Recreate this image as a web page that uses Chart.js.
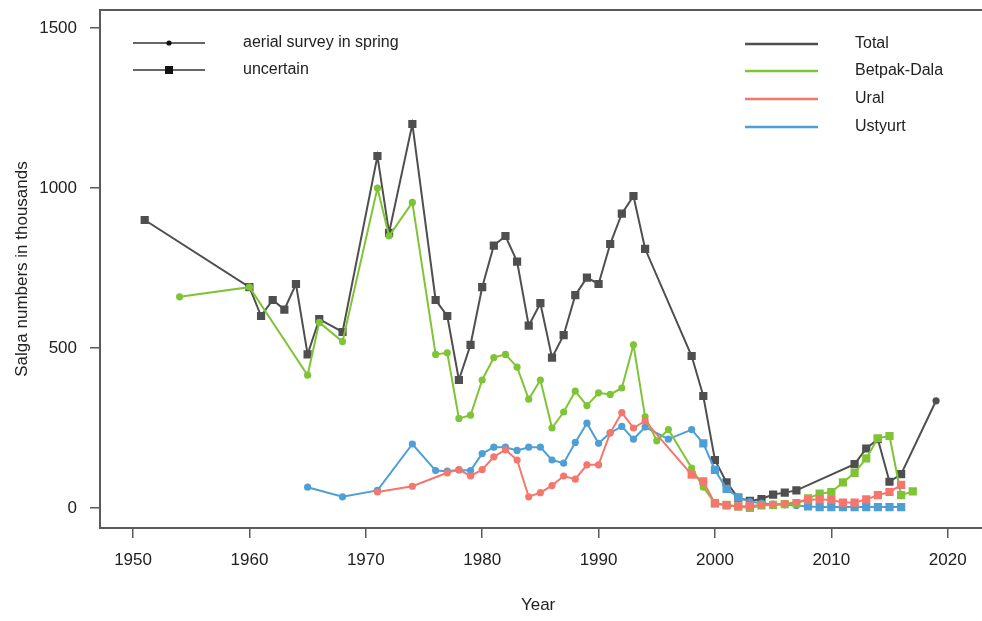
<!DOCTYPE html>
<html>
<head>
<meta charset="utf-8">
<title>Saiga numbers</title>
<script src="https://cdn.jsdelivr.net/npm/chart.js@4/dist/chart.umd.min.js"></script>
<style>
  html, body { margin: 0; padding: 0; background: #fff; }
  #chart { display: block; }
</style>
</head>
<body>
<canvas id="chart" width="982" height="621"></canvas>
<script>
// values, in thousands
const totalYears = [1951, 1960, 1961, 1962, 1963, 1964, 1965, 1966, 1968, 1971, 1972, 1974, 1976, 1977, 1978, 1979, 1980, 1981, 1982, 1983, 1984, 1985, 1986, 1987, 1988, 1989, 1990, 1991, 1992, 1993, 1994, 1998, 1999, 2000, 2001, 2002, 2003, 2004, 2005, 2006, 2007, 2012, 2013, 2014, 2015, 2016, 2019];
const totalValues = [900, 690, 600, 650, 620, 700, 480, 590, 550, 1100, 860, 1200, 650, 600, 400, 510, 690, 820, 850, 770, 570, 640, 470, 540, 665, 720, 700, 825, 920, 975, 810, 475, 350, 150, 80, 32, 22, 28, 42, 48, 55, 137, 186, 215, 82, 106, 335];

const betpakYears = [1954, 1960, 1965, 1966, 1968, 1971, 1972, 1974, 1976, 1977, 1978, 1979, 1980, 1981, 1982, 1983, 1984, 1985, 1986, 1987, 1988, 1989, 1990, 1991, 1992, 1993, 1994, 1995, 1996, 1998, 1999, 2000, 2001, 2002, 2003, 2004, 2005, 2006, 2007, 2008, 2009, 2010, 2011, 2012, 2013, 2014, 2015, 2016, 2017];
const betpakValues = [660, 690, 415, 580, 520, 1000, 850, 955, 480, 485, 280, 290, 400, 470, 480, 440, 340, 400, 250, 300, 365, 320, 360, 355, 375, 510, 285, 210, 245, 125, 65, 15, 10, 5, 0, 8, 10, 12, 15, 30, 45, 50, 80, 110, 155, 218, 225, 40, 52];

const uralYears = [1971, 1974, 1977, 1978, 1979, 1980, 1981, 1982, 1983, 1984, 1985, 1986, 1987, 1988, 1989, 1990, 1991, 1992, 1993, 1994, 1998, 1999, 2000, 2001, 2002, 2003, 2004, 2005, 2006, 2007, 2008, 2009, 2010, 2011, 2012, 2013, 2014, 2015, 2016];
const uralValues = [50, 68, 110, 120, 100, 120, 160, 182, 150, 35, 48, 70, 100, 90, 135, 135, 235, 298, 250, 272, 104, 83, 14, 8, 5, 6, 9, 11, 14, 17, 25, 27, 25, 17, 17, 27, 40, 50, 72];

const ustyurtYears = [1965, 1968, 1971, 1974, 1976, 1977, 1978, 1979, 1980, 1981, 1982, 1983, 1984, 1985, 1986, 1987, 1988, 1989, 1990, 1991, 1992, 1993, 1994, 1996, 1998, 1999, 2000, 2001, 2002, 2003, 2004, 2005, 2006, 2007, 2008, 2009, 2010, 2011, 2012, 2013, 2014, 2015, 2016];
const ustyurtValues = [65, 35, 55, 200, 117, 115, 119, 117, 170, 190, 190, 180, 190, 190, 150, 140, 205, 265, 202, 235, 255, 215, 253, 215, 245, 202, 119, 60, 33, 20, 15, 12, 10, 8, 5, 3, 3, 3, 3, 3, 3, 3, 3];

// year ranges counted as "uncertain" (the rest: aerial survey in spring)
const totalUncertain = [[1951, 2016]];
const betpakUncertain = [[2000, 2017]];
const uralUncertain = [[1998, 2003], [2008, 2016]];
const ustyurtUncertain = [[1999, 2002], [2008, 2016]];

const seriesNames = ['Total', 'Betpak-Dala', 'Ural', 'Ustyurt'];
const methodLabels = ['aerial survey in spring', 'uncertain'];
const yTicks = [0, 500, 1000, 1500];
const xTicks = [1950, 1960, 1970, 1980, 1990, 2000, 2010, 2020];

const colors = ['#4f4f4f', '#7fc436', '#f4766c', '#4e9fd5'];
const FONT = '"Liberation Sans", Arial, Helvetica, sans-serif';

function toPoints(years, values) {
    return years.map((yr, i) => ({ x: yr, y: values[i] }));
}

function inRanges(ranges, yr) {
    return ranges.some(r => yr >= r[0] && yr <= r[1]);
}

function makeSet(idx, years, values, uncertain, order) {
    return {
        label: seriesNames[idx],
        data: toPoints(years, values),
        borderColor: colors[idx],
        backgroundColor: colors[idx],
        borderWidth: 2,
        order: order,
        pointStyle: ctx => inRanges(uncertain, years[ctx.dataIndex]) ? 'rect' : 'circle',
        pointRadius: ctx => inRanges(uncertain, years[ctx.dataIndex]) ? 5.8 : 3.6,
        pointBorderWidth: 0,
        tension: 0
    };
}

// box round the plot plus the two hand-placed legends
const frameAndLegend = {
    id: 'frameAndLegend',
    afterDraw(chart) {
        const { ctx, chartArea: a } = chart;
        ctx.save();
        ctx.strokeStyle = '#5a5a5a';
        ctx.lineWidth = 2;
        ctx.strokeRect(a.left, a.top, a.right - a.left + 10, a.bottom - a.top);

        ctx.font = '16px ' + FONT;
        ctx.textBaseline = 'middle';
        ctx.textAlign = 'left';

        // method legend
        const mRows = [43, 70];
        methodLabels.forEach((txt, i) => {
            const y = mRows[i];
            ctx.strokeStyle = '#666';
            ctx.lineWidth = 2;
            ctx.beginPath();
            ctx.moveTo(133, y);
            ctx.lineTo(205, y);
            ctx.stroke();
            ctx.fillStyle = '#111';
            if (i === 0) {
                ctx.beginPath();
                ctx.arc(169, y, 2.6, 0, Math.PI * 2);
                ctx.fill();
            } else {
                ctx.fillRect(165, y - 4, 8, 8);
            }
            ctx.fillStyle = '#222';
            ctx.fillText(txt, 243, y);
        });

        // series legend
        const sRows = [44, 71, 99, 127];
        seriesNames.forEach((name, i) => {
            const y = sRows[i];
            ctx.strokeStyle = colors[i];
            ctx.lineWidth = 2.5;
            ctx.beginPath();
            ctx.moveTo(745, y);
            ctx.lineTo(818, y);
            ctx.stroke();
            ctx.fillStyle = '#222';
            ctx.fillText(name, 855, y);
        });
        ctx.restore();
    }
};

new Chart(document.getElementById('chart'), {
    type: 'line',
    data: {
        datasets: [
            makeSet(0, totalYears, totalValues, totalUncertain, 4),
            makeSet(1, betpakYears, betpakValues, betpakUncertain, 2),
            makeSet(2, uralYears, uralValues, uralUncertain, 1),
            makeSet(3, ustyurtYears, ustyurtValues, ustyurtUncertain, 3)
        ]
    },
    options: {
        responsive: false,
        animation: false,
        layout: { padding: { top: 10, right: 0, bottom: 0, left: 0 } },
        plugins: {
            legend: { display: false },
            tooltip: { enabled: false }
        },
        scales: {
            x: {
                type: 'linear',
                min: 1947.16,
                max: 2022.45,
                afterFit: s => { s.height = 93; s.paddingLeft = 0; s.paddingRight = 0; },
                afterBuildTicks: s => { s.ticks = xTicks.map(v => ({ value: v })); },
                ticks: { color: '#222', font: { family: FONT, size: 17 }, padding: 12, maxRotation: 0, callback: v => String(v) },
                grid: { drawOnChartArea: false, drawTicks: true, tickLength: 10, color: '#5a5a5a', lineWidth: 1.5 },
                border: { display: false },
                title: { display: true, text: 'Year', color: '#222', font: { family: FONT, size: 17 }, padding: { top: 0, bottom: 5 } }
            },
            y: {
                type: 'linear',
                min: -62.5,
                max: 1556.25,
                afterFit: s => { s.width = 100; s.paddingTop = 0; s.paddingBottom = 0; },
                afterBuildTicks: s => { s.ticks = yTicks.map(v => ({ value: v })); },
                ticks: { color: '#222', font: { family: FONT, size: 17 }, padding: 13, callback: v => String(v) },
                grid: { drawOnChartArea: false, drawTicks: true, tickLength: 10, color: '#5a5a5a', lineWidth: 1.5 },
                border: { display: false },
                title: { display: true, text: 'Salga numbers in thousands', color: '#222', font: { family: FONT, size: 17 }, padding: { top: 12, bottom: 0 } }
            }
        }
    },
    plugins: [frameAndLegend]
});
</script>
</body>
</html>
